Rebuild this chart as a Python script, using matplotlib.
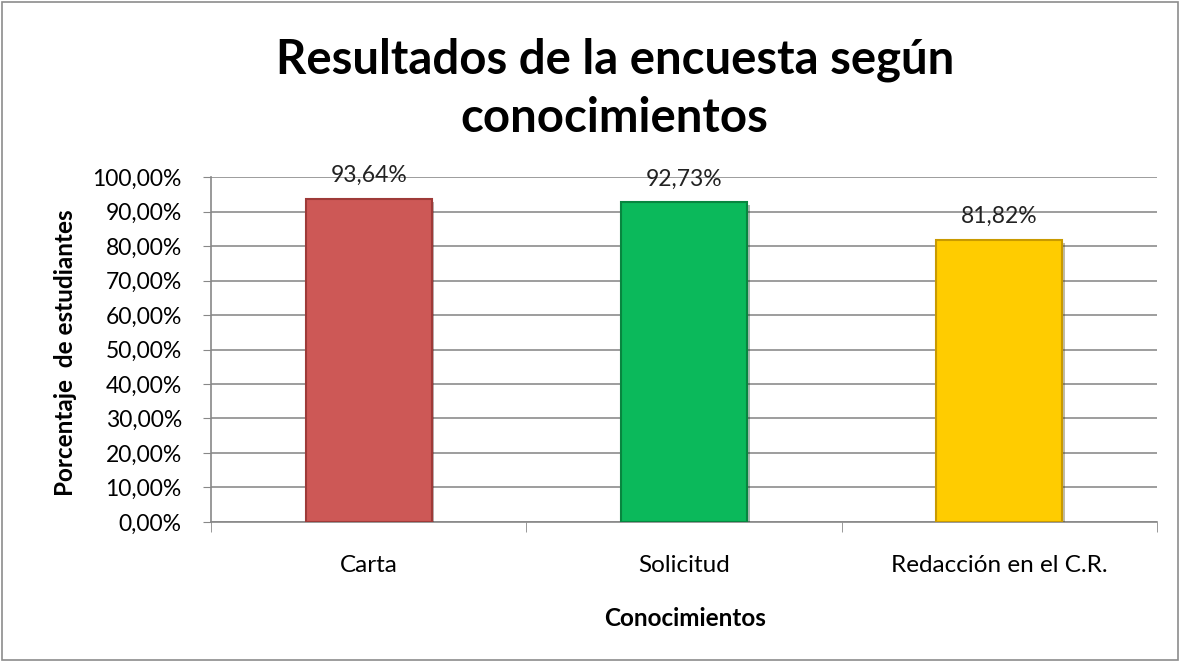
import numpy as np
import matplotlib.pyplot as plt
import matplotlib.patheffects as pe
from matplotlib.ticker import FuncFormatter

plt.rcParams['font.family'] = ['Lato', 'DejaVu Sans']

categories = ['Carta', 'Solicitud', 'Redacción en el C.R.']
values = [93.64, 92.73, 81.82]
labels = ['93,64%', '92,73%', '81,82%']
colors = ['#CD5856', '#0BB95B', '#FFCC00']
edges = ['#9E3A38', '#08853F', '#C99A00']

fig = plt.figure(figsize=(11.8, 6.62), dpi=100)
ax = fig.add_axes([0.1788, 0.2115, 0.8017, 0.5211])

x = np.arange(len(categories))
bars = ax.bar(x, values, width=0.40, color=colors, edgecolor=edges, linewidth=1.5, zorder=3)
for b in bars:
    b.set_path_effects([pe.SimplePatchShadow(offset=(2, -2), alpha=0.35), pe.Normal()])
for xi, v, lab in zip(x, values, labels):
    ax.annotate(lab, (xi, v), xytext=(0, 12), textcoords='offset points',
                ha='center', va='baseline', fontsize=16.5, color='#222222', zorder=4)

ax.set_xlim(-0.5, len(categories) - 0.5)
ax.set_ylim(0, 100)
ax.set_yticks(np.arange(0, 101, 10))
ax.yaxis.set_major_formatter(FuncFormatter(lambda v, p: f'{v:.2f}%'.replace('.', ',')))
ax.set_xticks(x)
ax.set_xticklabels(categories, fontsize=17.5)
ax.set_xticks(np.arange(-0.5, len(categories)), minor=True)
ax.tick_params(axis='x', which='major', length=0, pad=24)
ax.tick_params(axis='x', which='minor', length=7, color='#888888', direction='out')
ax.tick_params(axis='y', labelsize=16.5, length=6, pad=15, color='#888888', direction='out')
ax.grid(axis='y', color='#8c8c8c', linewidth=1.2, zorder=0)
for s in ['top', 'right']:
    ax.spines[s].set_visible(False)
for s in ['left', 'bottom']:
    ax.spines[s].set_color('#888888')
    ax.spines[s].set_linewidth(1.2)

ax.set_ylabel('Porcentaje  de estudiantes', fontsize=17.5, fontweight='bold', va='center')
ax.yaxis.set_label_coords(-0.154, 0.49)
ax.set_xlabel('Conocimientos', fontsize=17.5, fontweight='bold', va='top')
ax.xaxis.set_label_coords(0.501, -0.245)

fig.text(0.521, 0.8897, 'Resultados de la encuesta según', ha='center', va='baseline',
         fontsize=34, fontweight='bold')
fig.text(0.521, 0.8006, 'conocimientos', ha='center', va='baseline',
         fontsize=34, fontweight='bold')

fig.patches.append(plt.Rectangle((0.002, 0.003), 0.996, 0.994, transform=fig.transFigure,
                                 fill=False, edgecolor='#8c8c8c', linewidth=1.2))

fig.savefig('out.png', dpi=100)
